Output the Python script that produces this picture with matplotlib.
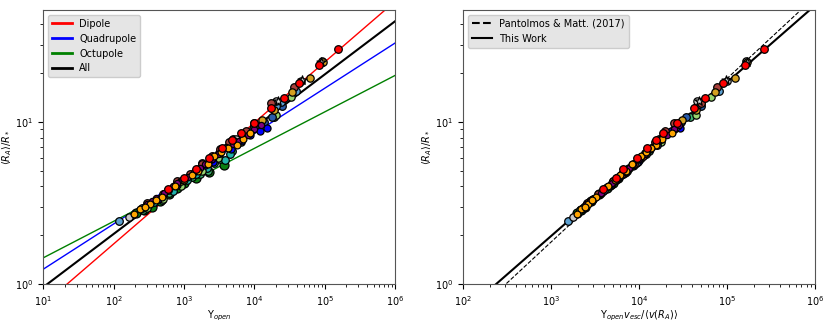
import numpy as np
import matplotlib
matplotlib.use('Agg')
import matplotlib.pyplot as plt
from matplotlib.lines import Line2D

# fit lines: <R_A>/R* = K * x**m
fit_names = ['Dipole', 'Quadrupole', 'Octupole', 'All']
fit_colors = ['red', 'blue', 'green', 'black']
fit_K = [0.316, 0.65, 0.865, 0.45]
fit_m = [0.374, 0.279, 0.225, 0.328]

pm_K, pm_m = 0.056, 0.504       # Pantolmos & Matt (2017)
tw_K, tw_m = 0.075, 0.474       # This Work

# simulation points, one group per colour: (Y_open, <R_A>/R*, Y_open v_esc/<v(R_A)>)
red_y = [1.53e5, 8.3e4, 4.3e4, 1.7e4, 9.8e3, 6.5e3, 3.5e3, 1.5e3, 600, 2.3e3, 1.0e3, 4.8e3, 2.6e4]
red_ra = [28, 22.5, 17.4, 12.2, 9.9, 8.5, 6.9, 5.1, 3.85, 6.0, 4.5, 7.7, 14.0]
red_xr = [2.6e5, 1.6e5, 8.9e4, 4.2e4, 2.66e4, 1.86e4, 1.24e4, 6.6e3, 3.9e3, 9.5e3, 5.5e3, 1.55e4, 5.6e4]

brown_y = [3.7e4, 1.75e4, 7.5e3, 4.3e3, 2.5e3, 1.2e3, 500, 1.0e4, 3.2e3, 1.8e3, 800, 300]
brown_ra = [16.4, 13.0, 8.8, 7.5, 6.2, 4.8, 3.6, 9.9, 6.8, 5.5, 4.3, 3.15]
brown_xr = [7.6e4, 5.0e4, 1.95e4, 1.5e4, 1.1e4, 6.3e3, 3.4e3, 2.5e4, 1.25e4, 8.8e3, 5.0e3, 2.55e3]

gold_y = [6.2e4, 3.4e4, 9.3e4, 1.9e4, 5.2e3, 1.3e4, 2.4e3, 900]
gold_ra = [18.7, 15.2, 23.3, 11.8, 7.6, 10.3, 5.9, 4.3]
gold_xr = [1.22e5, 7.2e4, 1.7e5, 4.4e4, 1.6e4, 3.1e4, 9.8e3, 5.1e3]

orange_y = [8.8e3, 5.6e3, 2.2e3, 2.7e3, 1.6e3, 1.0e3, 750, 480, 330, 240, 195, 3.4e3,
            1.3e3, 400, 280, 6.8e3, 4.2e3]
orange_ra = [8.6, 7.2, 5.5, 6.2, 5.0, 4.4, 4.0, 3.45, 3.1, 2.9, 2.72, 6.5,
             4.7, 3.3, 3.0, 7.9, 6.9]
orange_xr = [2.35e4, 1.55e4, 8.3e3, 1.05e4, 7.0e3, 5.3e3, 4.4e3, 3.2e3, 2.6e3, 2.2e3, 1.95e3, 1.2e4,
             6.0e3, 2.9e3, 2.4e3, 1.8e4, 1.35e4]

purple_y = [1.25e4, 8.0e3, 6.0e3, 4.0e3, 3.0e3, 2.0e3, 1.4e3, 950, 700, 520, 400, 300,
            1.7e3, 2.5e3, 5.0e3, 1.0e4, 350, 800, 1.15e3]
purple_ra = [9.6, 8.3, 7.6, 7.0, 6.3, 5.5, 4.9, 4.4, 4.0, 3.65, 3.4, 3.1,
             5.2, 5.9, 7.3, 9.0, 3.25, 4.2, 4.6]
purple_xr = [2.8e4, 2.05e4, 1.65e4, 1.4e4, 1.15e4, 8.6e3, 6.7e3, 5.4e3, 4.5e3, 3.7e3, 3.1e3, 2.5e3,
             7.6e3, 1.0e4, 1.55e4, 2.5e4, 2.75e3, 4.9e3, 5.9e3]

blue_y = [1.5e4, 1.2e4, 8.8e3, 4.6e3, 1.6e3, 420, 2.6e3, 2.0e3, 800, 6.5e3]
blue_ra = [9.2, 8.8, 8.3, 6.8, 5.1, 3.35, 5.7, 5.4, 4.1, 7.6]
blue_xr = [2.9e4, 2.3e4, 1.9e4, 1.32e4, 7.2e3, 2.95e3, 9.8e3, 8.4e3, 4.8e3, 1.65e4]

royal_y = [1.8e4, 1.35e4, 2.5e4, 9.5e3, 5.0e3]
royal_ra = [10.7, 10.0, 12.5, 9.0, 7.2]
royal_xr = [3.4e4, 3.0e4, 5.0e4, 2.5e4, 1.6e4]

sky_y = [120, 2.4e4, 3.9e4, 2.05e4, 1.0e4, 5.0e3, 1.8e3, 250, 3.1e3, 600]
sky_ra = [2.45, 13.2, 15.6, 12.6, 9.4, 7.8, 5.6, 2.95, 6.4, 3.8]
sky_xr = [1.55e3, 5.1e4, 8.0e4, 4.6e4, 2.7e4, 1.7e4, 9.2e3, 2.3e3, 1.15e4, 4.0e3]

silver_y = [165, 4.6e4, 2.0e4, 9.0e4, 800, 5.5e3]
silver_ra = [2.6, 18.0, 13.5, 23.8, 4.2, 7.9]
silver_xr = [1.75e3, 1.0e5, 4.5e4, 1.65e5, 4.9e3, 1.75e4]

lgreen_y = [3.3e4, 2.0e4, 900, 500, 6.5e3, 300, 1.8e3, 3.0e3]
lgreen_ra = [14.2, 11.0, 4.0, 3.35, 7.5, 2.95, 5.0, 6.0]
lgreen_xr = [6.6e4, 4.4e4, 4.6e3, 3.0e3, 1.75e4, 2.35e3, 7.0e3, 1.05e4]

dgreen_y = [3.7e3, 2.3e3, 1.0e3, 620, 350, 210, 1.5e3, 800, 270, 450]
dgreen_ra = [5.4, 4.9, 4.2, 3.6, 3.0, 2.75, 4.5, 3.9, 2.85, 3.25]
dgreen_xr = [8.6e3, 6.9e3, 5.0e3, 3.5e3, 2.4e3, 1.95e3, 5.8e3, 4.3e3, 2.2e3, 2.8e3]

sea_y = [2.2e3, 900, 480, 260, 4.8e3, 1.9e4, 1.3e3, 620, 3.2e3, 1.7e3]
sea_ra = [5.0, 4.1, 3.3, 2.85, 6.6, 10.8, 4.6, 3.65, 5.9, 4.8]
sea_xr = [7.3e3, 4.8e3, 2.9e3, 2.1e3, 1.3e4, 3.8e4, 5.9e3, 3.7e3, 1.0e4, 6.4e3]

teal_y = [4.5e3, 3.8e3, 2.7e3, 1.5e3, 700, 1.1e3, 2.1e3, 380]
teal_ra = [6.3, 5.8, 5.6, 4.8, 3.75, 4.4, 5.2, 3.2]
teal_xr = [1.2e4, 1.0e4, 9.3e3, 6.6e3, 3.9e3, 5.4e3, 7.7e3, 2.7e3]

star_y = [8.8e4, 4.7e4, 2.2e4]
star_ra = [23.6, 18.2, 13.4]
star_xr = [1.68e5, 9.8e4, 4.8e4]

groups = [
    (dgreen_y, dgreen_ra, dgreen_xr, '#0b7d12', 42, 'o'),
    (sea_y, sea_ra, sea_xr, '#3cb371', 30, 'o'),
    (teal_y, teal_ra, teal_xr, '#20b2aa', 30, 'o'),
    (lgreen_y, lgreen_ra, lgreen_xr, '#98d46e', 28, 'o'),
    (royal_y, royal_ra, royal_xr, '#2a5caa', 30, 'o'),
    (blue_y, blue_ra, blue_xr, '#0000ff', 26, 'o'),
    (sky_y, sky_ra, sky_xr, '#5b9fd0', 30, 'o'),
    (silver_y, silver_ra, silver_xr, '#c8c8c8', 28, 'o'),
    (brown_y, brown_ra, brown_xr, '#a8403c', 30, 'o'),
    (gold_y, gold_ra, gold_xr, '#d4a020', 28, 'o'),
    (purple_y, purple_ra, purple_xr, '#800080', 20, 'o'),
    (orange_y, orange_ra, orange_xr, '#ffa500', 24, 'o'),
    (star_y, star_ra, star_xr, '#dddddd', 45, '*'),
    (red_y, red_ra, red_xr, '#ff0000', 30, 'o'),
]

plt.rcParams['font.size'] = 7
fig = plt.figure(figsize=(8.3, 3.25), dpi=100)
ax1 = fig.add_axes([0.0522, 0.126, 0.4238, 0.843])
ax2 = fig.add_axes([0.5582, 0.126, 0.4238, 0.843])

# Left panel
xx = np.logspace(1, 6, 100)
for name, c, K, m in zip(fit_names, fit_colors, fit_K, fit_m):
    lw = 1.5 if c == 'black' else 1.0
    ax1.plot(xx, K * xx**m, c=c, lw=lw, zorder=1)
for y, ra, xr, col, s, mk in groups:
    ax1.scatter(y, ra, s=s, c=col, marker=mk, edgecolors='k', linewidths=0.9, zorder=2)

ax1.set_xscale('log')
ax1.set_yscale('log')
ax1.set_xlim(1e1, 1e6)
ax1.set_ylim(1, 49)
ax1.set_xlabel(r'$\Upsilon_{open}$', labelpad=1)
ax1.set_ylabel(r'$\langle R_A\rangle/R_*$', labelpad=1)
handles = [Line2D([], [], c=c, lw=2) for c in fit_colors]
ax1.legend(handles, fit_names, loc='upper left', fontsize=7,
           facecolor='#e5e5e5', edgecolor='#cccccc', framealpha=1)

# Right panel
xx2 = np.logspace(2, 6, 100)
ax2.plot(xx2, pm_K * xx2**pm_m, 'k--', lw=0.8, zorder=1)
ax2.plot(xx2, tw_K * xx2**tw_m, 'k-', lw=1.5, zorder=1)
for y, ra, xr, col, s, mk in groups:
    ax2.scatter(xr, ra, s=s, c=col, marker=mk, edgecolors='k', linewidths=0.9, zorder=2)

ax2.set_xscale('log')
ax2.set_yscale('log')
ax2.set_xlim(1e2, 1e6)
ax2.set_ylim(1, 49)
ax2.set_xlabel(r'$\Upsilon_{open}v_{esc}/\langle v(R_A)\rangle$', labelpad=1)
ax2.set_ylabel(r'$\langle R_A\rangle/R_*$', labelpad=1)
handles2 = [Line2D([], [], c='k', ls='--', lw=1.5), Line2D([], [], c='k', lw=1.5)]
ax2.legend(handles2, ['Pantolmos & Matt. (2017)', 'This Work'], loc='upper left',
           fontsize=7, facecolor='#e5e5e5', edgecolor='#cccccc', framealpha=1)

for ax in [ax1, ax2]:
    for sp in ax.spines.values():
        sp.set_color('#555555')

fig.savefig('out.png', dpi=100)
